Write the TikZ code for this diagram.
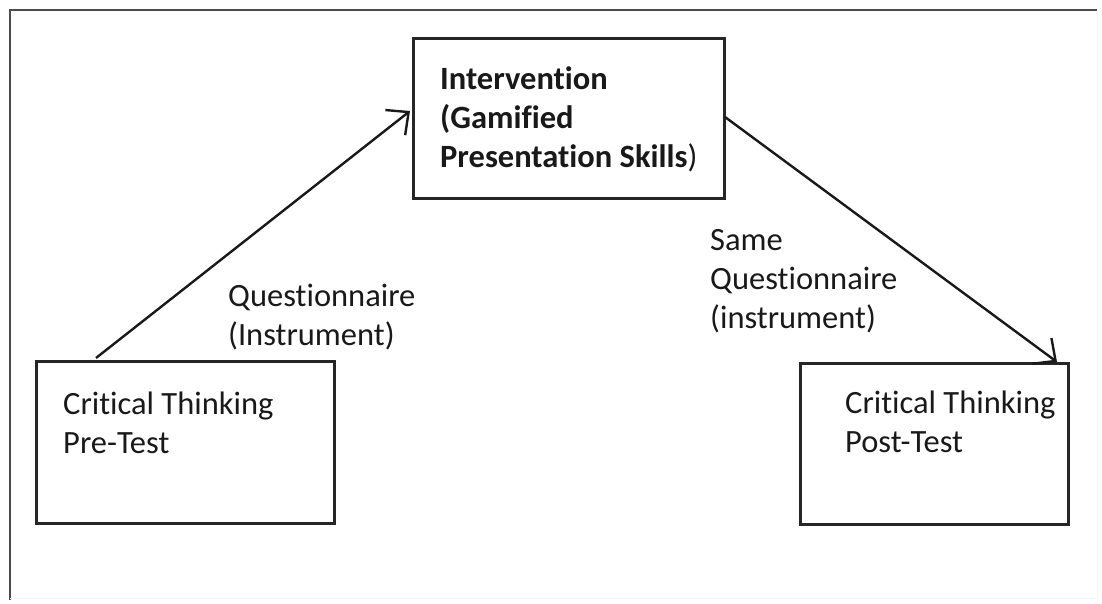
\documentclass[tikz,border=0pt]{standalone}
\usepackage{fontspec}
\setmainfont[Ligatures=NoCommon]{Carlito}
\usetikzlibrary{arrows.meta}
\begin{document}
\begin{tikzpicture}[x=1pt,y=-1pt,
  box/.style={draw=black!85, line width=2.6pt, rectangle, inner sep=0pt},
  txt/.style={anchor=north west, inner sep=0pt, align=left, text=black!90,
    font=\fontsize{32.5}{39}\selectfont},
  conn/.style={draw=black!90, line width=2.4pt, -{Straight Barb[length=17pt,width=32pt,line width=2.4pt]}}]
\useasboundingbox (0,0) rectangle (1102,603);
% outer frame
\draw[black!70, line width=2.4pt] (10,600) -- (10,10) -- (1097,10);
\draw[black!4, line width=0.8pt] (1097,10) -- (1097,598) -- (10,598);
% boxes
\node[box, minimum width=298pt, minimum height=162pt, anchor=north west] (pre) at (35,360) {};
\node[box, minimum width=311pt, minimum height=160pt, anchor=north west] (int) at (412,37) {};
\node[box, minimum width=268pt, minimum height=161pt, anchor=north west] (post) at (799,362) {};
% texts
\node[txt] (pretxt) at (63,392) {Critical Thinking\\Pre-Test};
\node[txt] (inttxt) at (440,66) {\bfseries Intervention\\\bfseries (Gamified\\\bfseries Presentation Skills\mdseries)};
\node[txt] (posttxt) at (845,391) {Critical Thinking\\Post-Test};
\node[txt] (lab1) at (228,284) {Questionnaire\\(Instrument)};
\node[txt] (lab2) at (710,229) {Same\\Questionnaire\\(instrument)};
% connectors
\coordinate (a1) at (96,358);
\coordinate (a2) at (410,111);
\coordinate (b1) at (725,117);
\coordinate (b2) at (1057,362);
\draw[conn] (a1) -- (a2);
\draw[conn] (b1) -- (b2);
\end{tikzpicture}
\end{document}
